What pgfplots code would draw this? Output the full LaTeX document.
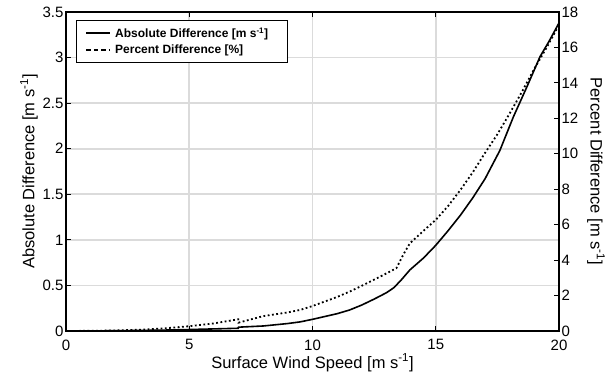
\documentclass[border=0pt]{standalone}
\usepackage{pgfplots}
\pgfplotsset{compat=1.18}
\usepackage{fontspec}
\setmainfont{Liberation Sans}

% Absolute difference [m/s] versus surface wind speed
\pgfplotstableread{
x y
0 0
1 0.001
2 0.003
3 0.006
4 0.010
5 0.016
6 0.023
6.99 0.030
7.0 0.042
8 0.055
9 0.082
9.5 0.100
10 0.128
11 0.19
11.5 0.23
12 0.285
12.5 0.35
13 0.42
13.3 0.475
13.6 0.56
13.95 0.67
14.5 0.80
15 0.94
15.5 1.10
16 1.27
16.5 1.46
17 1.67
17.6 1.98
18.15 2.35
18.7 2.68
19.23 3.01
19.6 3.18
20 3.38
}\absdiff

% Percent difference [%] versus surface wind speed
\pgfplotstableread{
x p
0 0
1 0.01
2 0.03
3 0.07
4 0.15
5 0.27
6 0.43
6.99 0.66
7.0 0.47
8 0.84
9 1.05
9.5 1.19
10 1.41
11 1.92
11.5 2.22
12 2.55
12.5 2.90
13 3.25
13.4 3.54
13.7 4.35
13.95 4.95
14.5 5.65
15 6.27
15.5 7.05
16 7.96
16.5 8.95
17 10.05
17.5 11.1
18 12.28
18.5 13.5
19 14.8
19.5 16.0
20 17.27
}\pctdiff

\begin{document}
\begin{tikzpicture}
\pgfplotsset{
  every axis/.append style={
    scale only axis,
    width=493pt, height=319pt,
    font=\fontsize{16.5}{19}\selectfont,
    tick label style={font=\fontsize{15}{17}\selectfont},
    /pgf/number format/assume math mode=true,
    tick align=inside,
    major tick length=5pt,
    tick style={black, line width=1pt},
    axis line style={line width=1.6pt},
    xmin=0, xmax=20,
  },
}
\begin{axis}[
  ymin=0, ymax=3.5,
  xtick={0,5,10,15,20},
  ytick={0,0.5,...,3.5},
  yticklabel style={/pgf/number format/fixed, xshift=1pt},
  xticklabel style={yshift=-5pt},
  xtick pos=both,
  ytick pos=left,
  grid=major,
  major grid style={black!14, line width=1.6pt},
  xlabel={Surface Wind Speed [m s\textsuperscript{-1}]},
  ylabel={Absolute Difference [m s\textsuperscript{-1}]},
  xlabel style={yshift=3pt},
  ylabel style={yshift=-2pt},
  legend style={at={(0.0203,0.975)}, anchor=north west, draw=black, line width=1.2pt,
    font=\fontsize{12}{14}\selectfont\bfseries, row sep=2pt,
    inner xsep=9pt, inner ysep=5pt, cells={anchor=west}},
  legend cell align=left,
  legend image code/.code={\draw[#1] (0pt,0pt) -- (24pt,0pt);},
]
\coordinate (sw) at (rel axis cs:0,0);
\coordinate (ne) at (rel axis cs:1,1);
\addplot[black, line width=1.6pt] table[x=x, y=y] {\absdiff};
\addlegendentry{\hspace*{2pt}Absolute Difference [m s\textsuperscript{-1}]\hspace*{8pt}}
\addlegendimage{black, line width=1.6pt, dash pattern=on 4.5pt off 3pt}
\addlegendentry{\hspace*{2pt}Percent Difference [\%]}
\end{axis}
\begin{axis}[
  ymin=0, ymax=18,
  ytick={0,2,...,18},
  axis x line=none,
  axis y line*=right,
  ytick pos=right,
  yticklabel style={xshift=-1pt},
  ylabel={Percent Difference [m s\textsuperscript{-1}]},
  ylabel style={rotate=180, yshift=2pt},
]
\addplot[black, line width=1.8pt, dash pattern=on 1.8pt off 2.5pt] table[x=x, y=p] {\pctdiff};
\end{axis}
\pgfresetboundingbox
\path[use as bounding box] ([xshift=-66pt,yshift=-51pt]sw) rectangle ([xshift=54pt,yshift=12pt]ne);
\end{tikzpicture}
\end{document}
